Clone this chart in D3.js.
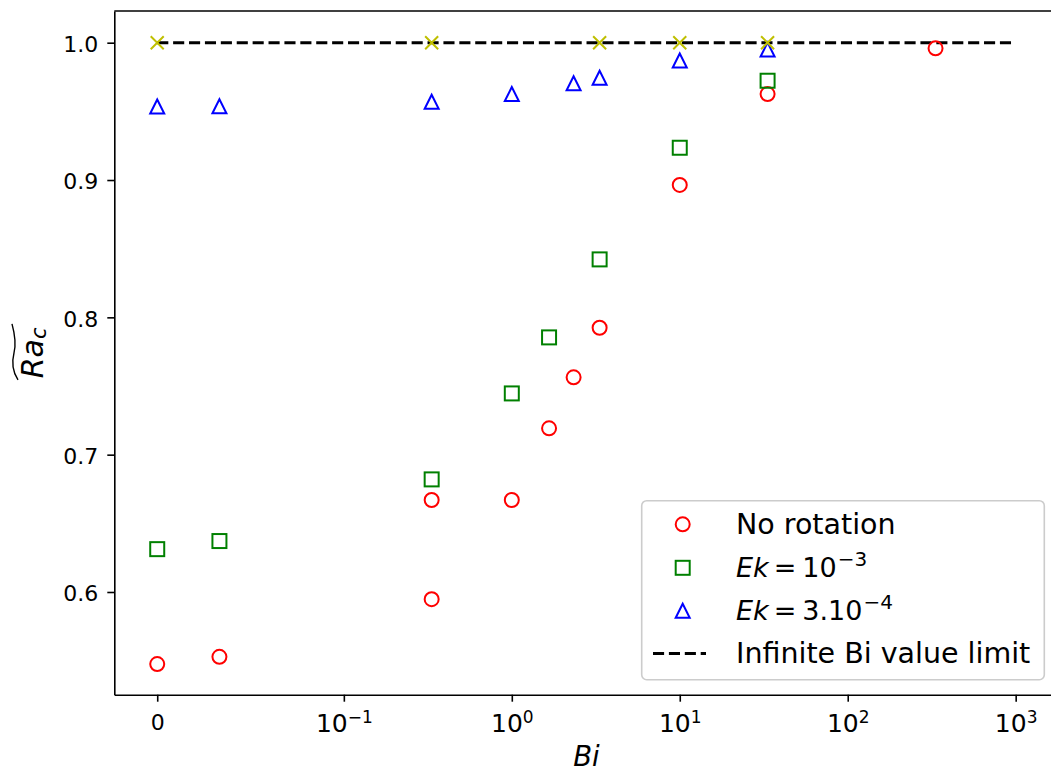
<!DOCTYPE html>
<html>
<head>
<meta charset="utf-8">
<script src="https://cdn.jsdelivr.net/npm/d3@7"></script>
<style>
  html, body { margin: 0; padding: 0; background: #fff; }
  svg { display: block; }
  text { font-family: "DejaVu Sans", sans-serif; fill: #000; }
</style>
</head>
<body>
<svg id="chart" width="1051" height="772"></svg>
<script>
// ---------- data ----------
const noRotBi   = [0, 1/30, 1/3, 1/3, 1, 5/3, 7/3, 10/3, 10, 100/3, 1000/3];
const noRotRa   = [0.5475, 0.5528, 0.5948, 0.667, 0.667, 0.7192, 0.7563, 0.7924, 0.8964, 0.9626, 0.9959];
const ek3Bi     = [0, 1/30, 1/3, 1, 5/3, 10/3, 10, 100/3];
const ek3Ra     = [0.6312, 0.6371, 0.682, 0.7446, 0.7854, 0.8422, 0.9235, 0.9723];
const ek34Bi    = [0, 1/30, 1/3, 1, 7/3, 10/3, 10, 100/3];
const ek34Ra    = [0.9535, 0.9537, 0.957, 0.9626, 0.9705, 0.9745, 0.987, 0.995];
const limitBi   = [0, 1000];
const limitRa   = [1.0, 1.0];
const crossBi   = [0, 1/3, 10/3, 10, 100/3];
const crossRa   = [1.0, 1.0, 1.0, 1.0, 1.0];
const xTickVals = [0, 0.1, 1, 10, 100, 1000];
const xTickExp  = [null, "\u22121", "0", "1", "2", "3"];
const yTickVals = [0.6, 0.7, 0.8, 0.9, 1.0];
const legendLabels = ["No rotation", "Ek = 10^-3", "Ek = 3.10^-4", "Infinite Bi value limit"];

// ---------- scales ----------
const linthresh = 0.1, linscale = 1 / (1 - 1 / 10);
const symlog = v => Math.abs(v) <= linthresh ? v / linthresh * linscale
                                             : Math.sign(v) * (linscale + Math.log10(Math.abs(v) / linthresh));
const fMin = symlog(0), fMax = symlog(1000), marg = 0.05 * (fMax - fMin);
const L = 114.3, R = 1058.6, T = 11, B = 694.7;
const xs = d3.scaleLinear().domain([fMin - marg, fMax + marg]).range([L, R]);
const X = v => xs(symlog(v));
const ys = d3.scaleLinear().domain([0.52521, 1.02308]).range([B, T]);

const svg = d3.select("#chart");

// ---------- axes ----------
const xAxis = d3.axisBottom(xs).tickValues(xTickVals.map(symlog)).tickSize(7).tickSizeOuter(0).tickFormat(() => "");
const gx = svg.append("g").attr("transform", `translate(0,${B})`).call(xAxis);
gx.attr("font-size", null);
gx.select(".domain").attr("stroke-width", 1.6);
gx.selectAll(".tick line").attr("stroke-width", 1.6);
gx.selectAll(".tick text").remove();
gx.selectAll(".tick").each(function(d, i) {
  const t = d3.select(this).append("text").attr("y", 37).attr("text-anchor", "middle").attr("fill", "#000");
  if (xTickExp[i] === null) {
    t.style("font-size", "22px").attr("y", 35).text("0");
  } else {
    t.append("tspan").style("font-size", "25px").text("10");
    t.append("tspan").style("font-size", "17px").attr("dy", -9).text(xTickExp[i]);
  }
});

const yAxis = d3.axisLeft(ys).tickValues(yTickVals).tickSize(7).tickSizeOuter(0).tickFormat(d3.format(".1f"));
const gy = svg.append("g").attr("transform", `translate(${L},0)`).call(yAxis);
gy.attr("font-size", null);
gy.select(".domain").attr("stroke-width", 1.6);
gy.selectAll(".tick line").attr("stroke-width", 1.6);
gy.selectAll(".tick text").style("font-size", "22px").attr("x", -16).attr("dy", "0.4em")
  .attr("fill", "#000");

// top spine
svg.append("line").attr("x1", L).attr("x2", R).attr("y1", T).attr("y2", T)
   .attr("stroke", "#000").attr("stroke-width", 1.6);

// axis labels
svg.append("text").attr("x", (L + R) / 2).attr("y", 766).attr("text-anchor", "middle")
   .style("font-size", "27.5px").attr("font-style", "italic").text("Bi");

const yl = svg.append("g").attr("transform", `translate(43,${(T + B) / 2}) rotate(-90)`);
const ylt = yl.append("text").attr("text-anchor", "middle").attr("font-style", "italic");
ylt.append("tspan").style("font-size", "30px").text("Ra");
ylt.append("tspan").style("font-size", "21px").attr("dy", 3).text("c");
yl.append("path").attr("d", "M -27 -25 C -18 -31, -8 -31, 0 -29 S 18 -28, 29 -31")
  .attr("fill", "none").attr("stroke", "#000").attr("stroke-width", 1.4);

// ---------- marks ----------
const plot = svg.append("g");

// dashed limit line
plot.append("path")
  .datum(limitBi.map((b, i) => [b, limitRa[i]]))
  .attr("d", d3.line().x(d => X(d[0])).y(d => ys(d[1])))
  .attr("fill", "none").attr("stroke", "#000").attr("stroke-width", 3)
  .attr("stroke-dasharray", "11.1 4.8");

const rs = 7;
plot.selectAll(".circ").data(noRotBi.map((b, i) => [b, noRotRa[i]])).join("circle")
  .attr("cx", d => X(d[0])).attr("cy", d => ys(d[1])).attr("r", rs)
  .attr("fill", "none").attr("stroke", "#ff0000").attr("stroke-width", 2);

plot.selectAll(".sq").data(ek3Bi.map((b, i) => [b, ek3Ra[i]])).join("rect")
  .attr("x", d => X(d[0]) - rs).attr("y", d => ys(d[1]) - rs).attr("width", 2 * rs).attr("height", 2 * rs)
  .attr("fill", "none").attr("stroke", "#008000").attr("stroke-width", 2);

const triPath = (cx, cy) => `M ${cx} ${cy - rs} L ${cx - rs} ${cy + rs} L ${cx + rs} ${cy + rs} Z`;
plot.selectAll(".tri").data(ek34Bi.map((b, i) => [b, ek34Ra[i]])).join("path")
  .attr("d", d => triPath(X(d[0]), ys(d[1])))
  .attr("fill", "none").attr("stroke", "#0000ff").attr("stroke-width", 2).attr("stroke-linejoin", "miter");

const cr = 6.5;
plot.selectAll(".cross").data(crossBi.map((b, i) => [b, crossRa[i]])).join("path")
  .attr("d", d => { const cx = X(d[0]), cy = ys(d[1]);
    return `M ${cx - cr} ${cy - cr} L ${cx + cr} ${cy + cr} M ${cx - cr} ${cy + cr} L ${cx + cr} ${cy - cr}`; })
  .attr("fill", "none").attr("stroke", "#bfbf00").attr("stroke-width", 2);

// ---------- legend ----------
const lg = svg.append("g");
lg.append("rect").attr("x", 641.7).attr("y", 500.7).attr("width", 402.6).attr("height", 179)
  .attr("rx", 5).attr("fill", "#fff").attr("fill-opacity", 0.8)
  .attr("stroke", "#cccccc").attr("stroke-width", 1.6);
const mx = 682.7, tx = 736;
const rowY = [524.3, 567.8, 610.8, 653.5];
const baseY = [534.3, 577.3, 620.3, 663.3];
lg.append("circle").attr("cx", mx).attr("cy", rowY[0]).attr("r", rs)
  .attr("fill", "none").attr("stroke", "#ff0000").attr("stroke-width", 2);
lg.append("rect").attr("x", mx - rs).attr("y", rowY[1] - rs).attr("width", 2 * rs).attr("height", 2 * rs)
  .attr("fill", "none").attr("stroke", "#008000").attr("stroke-width", 2);
lg.append("path").attr("d", triPath(mx, rowY[2]))
  .attr("fill", "none").attr("stroke", "#0000ff").attr("stroke-width", 2);
lg.append("line").attr("x1", 653).attr("x2", 706).attr("y1", rowY[3]).attr("y2", rowY[3])
  .attr("stroke", "#000").attr("stroke-width", 3).attr("stroke-dasharray", "11.1 4.8");

lg.append("text").attr("x", tx).attr("y", baseY[0]).style("font-size", "28.5px").text(legendLabels[0]);
[1, 2].forEach(k => {
  const parts = legendLabels[k].split(" = ");
  const [mant, ex] = parts[1].split("^");
  const t = lg.append("text").attr("x", tx).attr("y", baseY[k]).style("font-size", "27px");
  t.append("tspan").attr("font-style", "italic").text(parts[0]);
  t.append("tspan").attr("dx", 5).text("=");
  t.append("tspan").attr("dx", 6).text(mant);
  t.append("tspan").style("font-size", "20px").attr("dy", -11).attr("dx", 1).text(ex.replace("-", "\u2212"));
});
lg.append("text").attr("x", tx).attr("y", baseY[3]).style("font-size", "28.5px").text(legendLabels[3]);
</script>
</body>
</html>
